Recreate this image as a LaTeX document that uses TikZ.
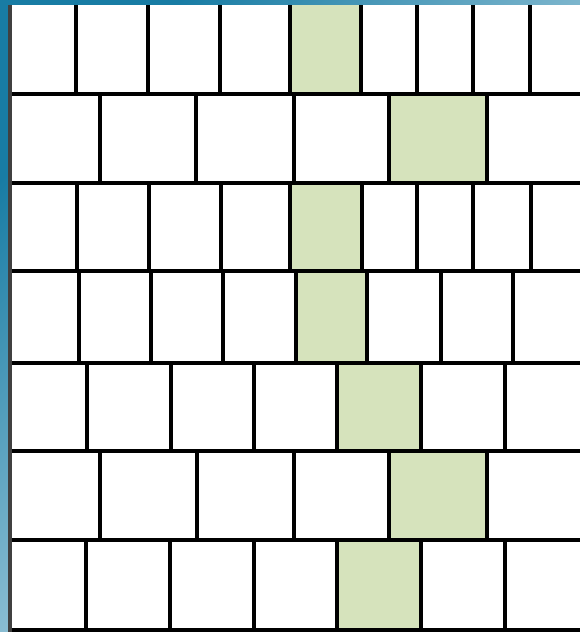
\documentclass[tikz,border=0pt]{standalone}
\begin{document}
\begin{tikzpicture}[x=1pt,y=-1pt,
  gridline/.style={line width=3.4pt,draw=black},
  greencell/.style={fill=cellgreen}]
\definecolor{cellgreen}{RGB}{214,227,188}
\definecolor{bgdark}{RGB}{24,124,164}
\definecolor{bglight}{RGB}{236,245,250}
\useasboundingbox (0,0) rectangle (580,632);
% background gradient
\shade[shading=axis,top color=bgdark,bottom color=bglight,shading angle=45] (0,0) rectangle (580,632);
% white field
\fill[white] (10,5) rectangle (580,630);
% green cells
\fill[greencell] (290,5) rectangle (361,94);
\fill[greencell] (389,94) rectangle (487,183);
\fill[greencell] (290,183) rectangle (362,271);
\fill[greencell] (296,271) rectangle (367,363);
\fill[greencell] (337,363) rectangle (421,451);
\fill[greencell] (389,451) rectangle (487,540);
\fill[greencell] (337,540) rectangle (421,630);
% horizontal lines
\foreach \y in {94,183,271,363,451,540,630}
  \draw[gridline] (10,\y) -- (580,\y);
% left edge
\draw[line width=3.4pt,draw=black!75] (10,5) -- (10,631.7);
% row 1
\foreach \x in {76,148,220,290,361,417,473,530}
  \draw[gridline] (\x,5) -- (\x,94);
% row 2
\foreach \x in {100,196,294,389,487}
  \draw[gridline] (\x,94) -- (\x,183);
% row 3
\foreach \x in {77,149,221,290,362,417,473,531}
  \draw[gridline] (\x,183) -- (\x,271);
% row 4
\foreach \x in {79,151,223,296,367,441,513}
  \draw[gridline] (\x,271) -- (\x,363);
% row 5
\foreach \x in {87,171,254,337,421,505}
  \draw[gridline] (\x,363) -- (\x,451);
% row 6
\foreach \x in {100,197,294,389,487}
  \draw[gridline] (\x,451) -- (\x,540);
% row 7
\foreach \x in {86,170,254,337,421,505}
  \draw[gridline] (\x,540) -- (\x,630);
\end{tikzpicture}
\end{document}
